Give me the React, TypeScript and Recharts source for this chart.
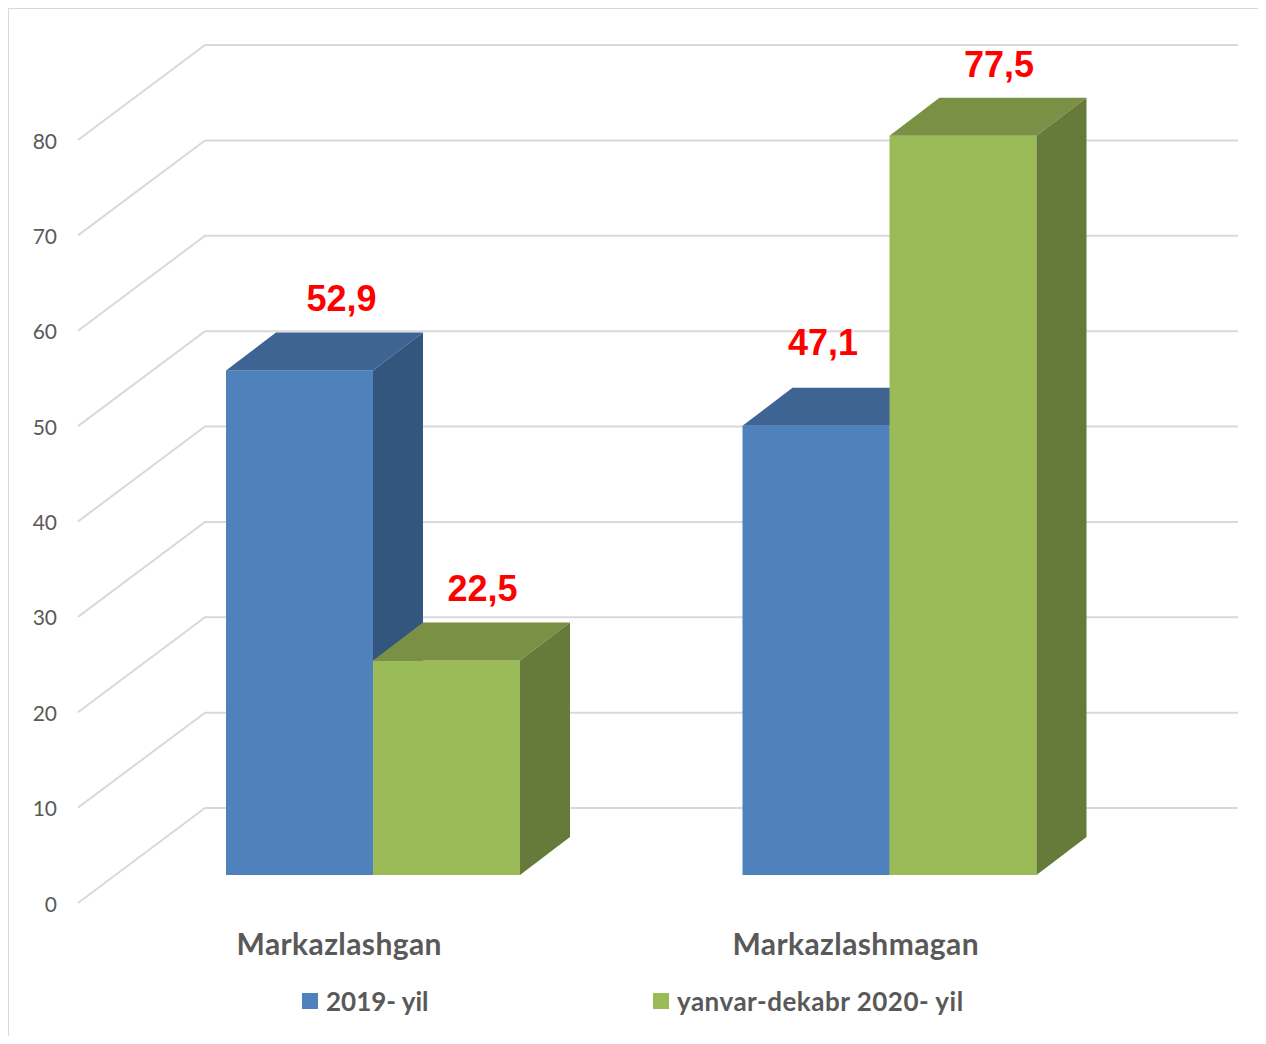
import { Bar, BarChart, CartesianGrid, LabelList, Legend, XAxis, YAxis } from "recharts";

const CATEGORIES = ["Markazlashgan", "Markazlashmagan"];
const VALUES_2019 = [52.9, 47.1];
const VALUES_2020 = [22.5, 77.5];
const SERIES_NAMES = ["2019- yil", "yanvar-dekabr 2020- yil"];
const Y_TICKS = [0, 10, 20, 30, 40, 50, 60, 70, 80];

const data = CATEGORIES.map((name, i) => ({
  name,
  y2019: VALUES_2019[i],
  y2020: VALUES_2020[i],
}));

// perspective: bars sit at a middle depth, front plane and back wall are offsets from it
const FRONT = { dx: -37, dy: 28 };
const BACK = { dx: 90, dy: -67 };
const DEPTH = { dx: 50, dy: -38 };

const TEXT = "#595959";
const GRID = "#d9d9d9";

const FACES: Record<string, { front: string; top: string; side: string }> = {
  y2019: { front: "#4f81bd", top: "#3e6494", side: "#33567f" },
  y2020: { front: "#9bbb59", top: "#799045", side: "#667b39" },
};

// labels that were moved by hand in the source chart
const LABEL_NUDGE: Record<string, [number, number]> = {
  "y2019-0": [6, 0],
  "y2019-1": [-29, -12],
};

const box = (key: string) => (props: any) => {
  const { x, y, width, height } = props;
  const c = FACES[key];
  const { dx, dy } = DEPTH;
  return (
    <g>
      <rect x={x} y={y} width={width} height={height} fill={c.front} />
      <polygon
        points={`${x},${y} ${x + dx},${y + dy} ${x + width + dx},${y + dy} ${x + width},${y}`}
        fill={c.top}
      />
      <polygon
        points={`${x + width},${y} ${x + width + dx},${y + dy} ${x + width + dx},${y + height + dy} ${x + width},${y + height}`}
        fill={c.side}
      />
    </g>
  );
};

const valueLabel = (key: string) => (props: any) => {
  const { x, y, width, value, index } = props;
  const [nx, ny] = LABEL_NUDGE[`${key}-${index}`] ?? [0, 0];
  return (
    <text
      x={x + width / 2 + 36 + nx}
      y={y - 59 + ny}
      textAnchor="middle"
      fill="#ff0000"
      fontFamily="'Liberation Sans', Arial, sans-serif"
      fontWeight="bold"
      fontSize={36}
    >
      {Number(value).toFixed(1).replace(".", ",")}
    </text>
  );
};

const gridLine = (props: any) => {
  const { x1, x2, y1, index } = props;
  const pts = [
    [x1 + FRONT.dx, y1 + FRONT.dy],
    [x1 + BACK.dx, y1 + BACK.dy],
    [x2 + BACK.dx, y1 + BACK.dy],
  ];
  return (
    <polyline
      key={`grid-${index}`}
      points={pts.map((p) => p.join(",")).join(" ")}
      fill="none"
      stroke={GRID}
      strokeWidth={2}
    />
  );
};

const YTick = (props: any) => {
  const { x, y, payload } = props;
  return (
    <text
      x={x - 58}
      y={y + FRONT.dy}
      textAnchor="end"
      dominantBaseline="central"
      fill={TEXT}
      fontFamily="Lato, sans-serif"
      fontSize={21}
    >
      {payload.value}
    </text>
  );
};

const XTick = (props: any) => {
  const { x, y, payload } = props;
  return (
    <text
      x={x + FRONT.dx + 3}
      y={y + 80}
      textAnchor="middle"
      fill={TEXT}
      fontFamily="Lato, sans-serif"
      fontWeight="bold"
      fontSize={30}
      letterSpacing={0.4}
    >
      {payload.value}
    </text>
  );
};

const LegendContent = (props: any) => {
  const items = props.payload ?? [];
  return (
    <div style={{ display: "flex", paddingLeft: 294 }}>
      {items.map((item: any, i: number) => (
        <div
          key={item.value}
          style={{
            display: "flex",
            alignItems: "center",
            width: i === 0 ? 351 : "auto",
          }}
        >
          <span
            style={{
              width: 16,
              height: 16,
              background: item.color,
              marginRight: 8,
            }}
          />
          <span
            style={{
              fontFamily: "Lato, sans-serif",
              fontWeight: "bold",
              fontSize: 26,
              letterSpacing: i === 0 ? 0 : 0.5,
              lineHeight: "28px",
              color: TEXT,
            }}
          >
            {item.value}
          </span>
        </div>
      ))}
    </div>
  );
};

export default function App() {
  return (
    <div
      style={{
        position: "relative",
        left: -1,
        top: -1,
        width: 1259,
        height: 1037,
        marginBottom: -9,
        boxSizing: "border-box",
        borderLeft: `2px solid ${GRID}`,
        borderTop: `2px solid ${GRID}`,
      }}
    >
      <div style={{ position: "absolute", left: -1, top: -1 }}>
        <BarChart
          width={1258}
          height={1028}
          data={data}
          barGap={0}
          barSize={147}
          margin={{ top: 104, right: 118, bottom: 101, left: 47 }}
        >
          <CartesianGrid vertical={false} horizontal={gridLine} />
          <XAxis
            dataKey="name"
            height={60}
            axisLine={false}
            tickLine={false}
            tickSize={0}
            tickMargin={0}
            tick={<XTick />}
          />
          <YAxis
            domain={[0, 80]}
            ticks={Y_TICKS}
            width={60}
            axisLine={false}
            tickLine={false}
            tickSize={0}
            tickMargin={0}
            tick={<YTick />}
          />
          <Legend
            layout="horizontal"
            align="center"
            verticalAlign="middle"
            wrapperStyle={{ left: 0, top: 979, width: 1258 }}
            content={<LegendContent />}
          />
          <Bar
            dataKey="y2019"
            name={SERIES_NAMES[0]}
            fill={FACES.y2019.front}
            legendType="square"
            shape={box("y2019")}
            isAnimationActive={false}
          >
            <LabelList dataKey="y2019" content={valueLabel("y2019")} />
          </Bar>
          <Bar
            dataKey="y2020"
            name={SERIES_NAMES[1]}
            fill={FACES.y2020.front}
            legendType="square"
            shape={box("y2020")}
            isAnimationActive={false}
          >
            <LabelList dataKey="y2020" content={valueLabel("y2020")} />
          </Bar>
        </BarChart>
      </div>
    </div>
  );
}
